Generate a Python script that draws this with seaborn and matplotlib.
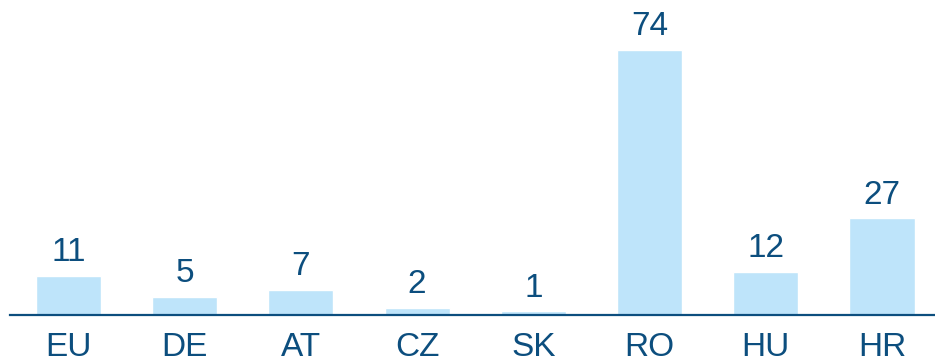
import matplotlib
matplotlib.use("Agg")
import matplotlib.pyplot as plt
import seaborn as sns
import pandas as pd

countries = ["EU", "DE", "AT", "CZ", "SK", "RO", "HU", "HR"]
values = [11, 5, 7, 2, 1, 74, 12, 27]

bar_color = "#BEE4FA"
text_color = "#0C4E7E"

sns.set_theme(style="white")
plt.rcParams["font.family"] = ["Liberation Sans", "DejaVu Sans"]

df = pd.DataFrame({"country": countries, "value": values})

fig = plt.figure(figsize=(9.35, 3.59), dpi=100)
ax = fig.add_axes([10 / 935, 44 / 359, 925 / 935, 315 / 359])

sns.barplot(data=df, x="country", y="value", color=bar_color, width=0.56,
            saturation=1, ax=ax)

for i, v in enumerate(values):
    ax.annotate(str(v), xy=(i, v), xytext=(0, 5.5), textcoords="offset points",
                ha="center", va="bottom", fontsize=24, color=text_color)

ax.set_xlim(-0.503, 7.456)
ax.set_ylim(0, 88)
ax.set_xlabel("")
ax.set_ylabel("")
ax.set_yticks([])
for s in ["left", "right", "top"]:
    ax.spines[s].set_visible(False)
ax.spines["bottom"].set_color(text_color)
ax.spines["bottom"].set_linewidth(1.6)
ax.tick_params(axis="x", length=0, pad=12, labelsize=24, labelcolor=text_color)

fig.savefig("out.png", dpi=100)
